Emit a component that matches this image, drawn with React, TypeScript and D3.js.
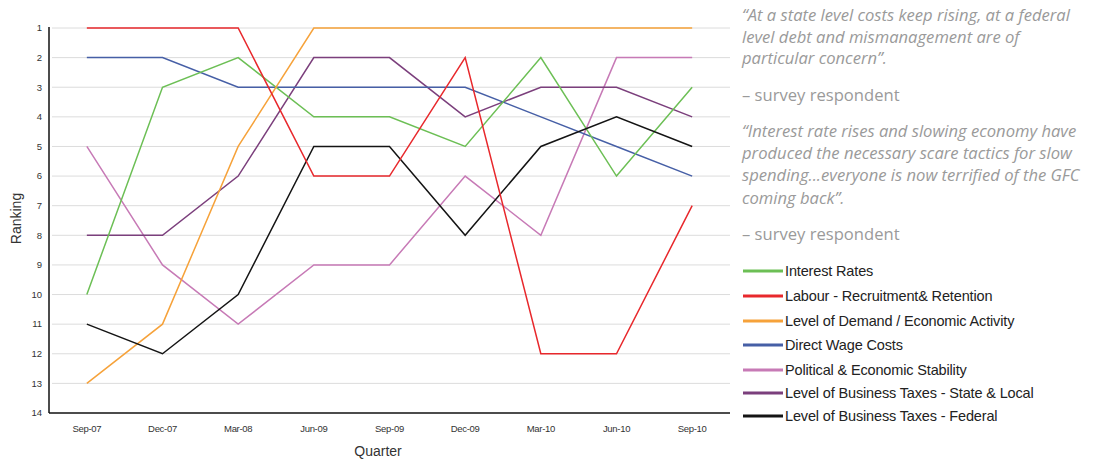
import React from "react";
import * as d3 from "d3";

const quarters = ["Sep-07", "Dec-07", "Mar-08", "Jun-09", "Sep-09", "Dec-09", "Mar-10", "Jun-10", "Sep-10"];
const rankTicks = [1, 2, 3, 4, 5, 6, 7, 8, 9, 10, 11, 12, 13, 14];

const interestRates = [10, 3, 2, 4, 4, 5, 2, 6, 3];
const labour = [1, 1, 1, 6, 6, 2, 12, 12, 7];
const demand = [13, 11, 5, 1, 1, 1, 1, 1, 1];
const directWage = [2, 2, 3, 3, 3, 3, 4, 5, 6];
const political = [5, 9, 11, 9, 9, 6, 8, 2, 2];
const stateLocalTax = [8, 8, 6, 2, 2, 4, 3, 3, 4];
const federalTax = [11, 12, 10, 5, 5, 8, 5, 4, 5];

const seriesNames = [
  "Interest Rates",
  "Labour - Recruitment& Retention",
  "Level of Demand / Economic Activity",
  "Direct Wage Costs",
  "Political & Economic Stability",
  "Level of Business Taxes - State & Local",
  "Level of Business Taxes - Federal",
];
const seriesValues = [interestRates, labour, demand, directWage, political, stateLocalTax, federalTax];
const seriesColors = ["#6cbf55", "#e8282c", "#f6a23a", "#465fa6", "#c77ab6", "#7b3f7c", "#141414"];
// drawing order (back to front)
const drawOrder = [4, 5, 3, 0, 2, 6, 1];

const quoteLines1 = [
  "\u201cAt a state level costs keep rising, at a federal",
  "level debt and mismanagement are of",
  "particular concern\u201d.",
];
const quoteLines2 = [
  "\u201cInterest rate rises and slowing economy have",
  "produced the necessary scare tactics for slow",
  "spending...everyone is now terrified of the GFC",
  "coming back\u201d.",
];
const attribution = "\u2013 survey respondent";

export default function App() {
  const W = 1093;
  const H = 460;
  const left = 49;
  const right = 730;
  const top = 28;
  const bottom = 413;

  const x = d3.scalePoint<string>().domain(quarters).range([left, right]).padding(0.5);
  const y = d3.scaleLinear().domain([1, 14]).range([top, bottom]);
  const line = d3
    .line<number>()
    .x((_, i) => x(quarters[i]) as number)
    .y((d) => y(d));

  const font = "Arial, 'Liberation Sans', sans-serif";
  const quoteFont = "'Open Sans', sans-serif";
  const legendY = [271, 296, 321, 345, 370, 393, 416];

  return (
    <svg
      width={W}
      height={H}
      style={{ position: "absolute", left: 0, top: 0, background: "#fff" }}
    >
      {/* grid lines */}
      {rankTicks.slice(0, 13).map((r) => (
        <line key={"g" + r} x1={left + 3} x2={right} y1={y(r)} y2={y(r)} stroke="#dcdcdc" strokeWidth={1} />
      ))}
      {/* axes */}
      <line x1={left} x2={left} y1={top - 1} y2={bottom} stroke="#111" strokeWidth={1.5} />
      <line x1={left} x2={right} y1={bottom} y2={bottom} stroke="#111" strokeWidth={1.5} />
      {rankTicks.map((r) => (
        <text
          key={"yt" + r}
          x={left - 7}
          y={y(r)}
          dy="0.35em"
          textAnchor="end"
          fontFamily={font}
          fontSize={9.5}
          fill="#333"
        >
          {r}
        </text>
      ))}
      {quarters.map((q) => (
        <text
          key={"xt" + q}
          x={x(q) as number}
          y={432}
          textAnchor="middle"
          fontFamily={font}
          fontSize={9.5}
          letterSpacing={-0.3}
          fill="#333"
        >
          {q}
        </text>
      ))}
      <text x={378} y={456} textAnchor="middle" fontFamily={font} fontSize={14} fill="#333">
        Quarter
      </text>
      <text
        transform={`translate(21,${(top + bottom) / 2 - 2}) rotate(-90)`}
        textAnchor="middle"
        fontFamily={font}
        fontSize={14}
        fill="#333"
      >
        Ranking
      </text>

      {/* series */}
      {drawOrder.map((i) => (
        <path
          key={"s" + i}
          d={line(seriesValues[i]) || ""}
          fill="none"
          stroke={seriesColors[i]}
          strokeWidth={1.5}
          strokeLinejoin="miter"
        />
      ))}

      {/* quotes */}
      {quoteLines1.map((t, i) => (
        <text key={"q1" + i} x={742} y={21 + i * 21.5} fontFamily={quoteFont} fontStyle="italic" fontSize={16.6} fill="#9a9a9a">
          {t}
        </text>
      ))}
      <text x={742} y={101} fontFamily={quoteFont} fontSize={16.6} fill="#9a9a9a">
        {attribution}
      </text>
      {quoteLines2.map((t, i) => (
        <text key={"q2" + i} x={742} y={137 + i * 22.2} fontFamily={quoteFont} fontStyle="italic" fontSize={16.6} fill="#9a9a9a">
          {t}
        </text>
      ))}
      <text x={742} y={240} fontFamily={quoteFont} fontSize={16.6} fill="#9a9a9a">
        {attribution}
      </text>

      {/* legend */}
      {seriesNames.map((n, i) => (
        <g key={"l" + i}>
          <line x1={743} x2={783} y1={legendY[i]} y2={legendY[i]} stroke={seriesColors[i]} strokeWidth={3} />
          <text x={785} y={legendY[i]} dy="0.35em" fontFamily={font} fontSize={14.5} letterSpacing={-0.15} fill="#222">
            {n}
          </text>
        </g>
      ))}
    </svg>
  );
}
